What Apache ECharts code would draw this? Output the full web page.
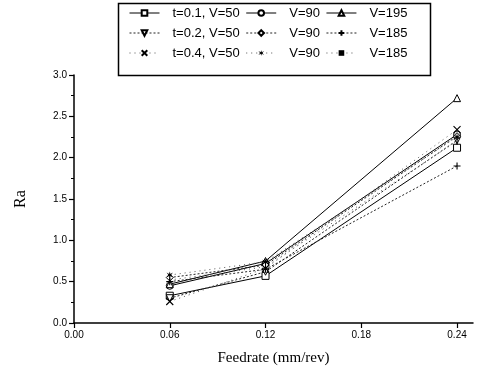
<!DOCTYPE html>
<html>
<head>
<meta charset="utf-8">
<script src="https://cdn.jsdelivr.net/npm/echarts@6/dist/echarts.min.js"></script>
<style>
  html, body { margin: 0; padding: 0; background: #fff; }
  #main { width: 488px; height: 374px; }
</style>
</head>
<body>
<div id="main"></div>
<script>
// feed rates on x axis
var feedrate = [0.06, 0.12, 0.24];
var xTicks = [0, 0.06, 0.12, 0.18, 0.24];

// Ra values, one array per (t, V)
var t01V50  = [0.33, 0.57, 2.12];
var t01V90  = [0.45, 0.72, 2.28];
var t01V195 = [0.47, 0.75, 2.72];
var t02V50  = [0.30, 0.62, 2.21];
var t02V90  = [0.55, 0.70, 2.26];
var t02V185 = [0.50, 0.65, 1.90];
var t04V50  = [0.26, 0.66, 2.34];
var t04V90  = [0.58, 0.74, 2.25];
var t04V185 = [0.52, 0.68, 2.20];

var seriesNames = ['t=0.1, V=50', 't=0.1, V=90', 't=0.1, V=195',
                   't=0.2, V=50', 't=0.2, V=90', 't=0.2, V=185',
                   't=0.4, V=50', 't=0.4, V=90', 't=0.4, V=185'];
var legendLabels = ['t=0.1, V=50', 'V=90', 'V=195',
                    't=0.2, V=50', 'V=90', 'V=185',
                    't=0.4, V=50', 'V=90', 'V=185'];

var myChart = echarts.init(document.getElementById('main'));

function pts(arr) {
    return arr.map(function (v, i) { return [feedrate[i], v]; });
}

var open = {color: '#fff', borderColor: '#000', borderWidth: 1};
var stroke = {color: '#000', borderColor: '#000', borderWidth: 1.1};
var solid = {color: '#000', width: 1, type: 'solid'};
var dotted = {color: '#222', width: 1, type: [2, 2]};
var sparse = {color: '#555', width: 1, type: [1, 4]};

function mk(name, data, symbol, itemStyle, lineStyle, rot) {
    return {
        name: name,
        type: 'line',
        data: pts(data),
        symbol: symbol,
        symbolSize: 7,
        symbolKeepAspect: true,
        symbolRotate: rot || 0,
        itemStyle: itemStyle,
        lineStyle: lineStyle,
        emphasis: {disabled: true}
    };
}

var star = 'path://M5,0L6,3.5L9.5,1.5L7,5L9.5,8.5L6,6.5L5,10L4,6.5L0.5,8.5L3,5L0.5,1.5L4,3.5Z';
var plus = 'path://M0,5L10,5M5,0L5,10';
var cross = 'path://M0,0L10,10M10,0L0,10';
var bar = 'path://M4.4,1L5.6,1L5.6,9L4.4,9Z';

var option = {
    animation: false,
    legend: {
        data: seriesNames,
        left: 129,
        right: 50,
        top: 6,
        itemGap: 6,
        itemWidth: 30,
        itemHeight: 7,
        padding: 0,
        lineStyle: {width: 1},
        formatter: function (name) {
            return legendLabels[seriesNames.indexOf(name)];
        },
        textStyle: {
            fontFamily: 'Liberation Sans',
            fontSize: 13,
            lineHeight: 14,
            color: '#000',
            padding: [0, 0, 0, 8]
        }
    },
    graphic: [{
        type: 'rect',
        left: 116,
        top: 1,
        shape: {width: 312, height: 72},
        style: {fill: 'none', stroke: '#000', lineWidth: 1.5}
    }],
    grid: {
        left: 74,
        top: 75,
        width: 399,
        bottom: 51
    },
    xAxis: {
        type: 'value',
        min: 0,
        max: 0.25,
        name: 'Feedrate (mm/rev)',
        nameLocation: 'middle',
        nameGap: 28,
        nameTextStyle: {fontFamily: 'Liberation Serif', fontSize: 15, color: '#000'},
        splitLine: {show: false},
        axisLine: {lineStyle: {color: '#000', width: 1.5}},
        axisTick: {customValues: xTicks, length: 5, lineStyle: {color: '#000', width: 1.2}},
        axisLabel: {
            customValues: xTicks,
            color: '#000',
            fontFamily: 'Liberation Sans',
            fontSize: 10,
            margin: 7,
            formatter: function (v) { return v.toFixed(2); }
        }
    },
    yAxis: {
        type: 'value',
        min: 0,
        max: 3,
        interval: 0.5,
        name: 'Ra',
        nameLocation: 'middle',
        nameGap: 45,
        nameTextStyle: {fontFamily: 'Liberation Serif', fontSize: 16, color: '#000'},
        splitLine: {show: false},
        axisLine: {show: true, lineStyle: {color: '#000', width: 1.5}},
        axisTick: {show: true, length: 5, lineStyle: {color: '#000', width: 1.2}},
        minorTick: {show: true, splitNumber: 2, length: 3, lineStyle: {color: '#000', width: 1}},
        axisLabel: {
            color: '#000',
            fontFamily: 'Liberation Sans',
            fontSize: 10,
            margin: 7,
            formatter: function (v) { return v.toFixed(1); }
        }
    },
    series: [
        mk(seriesNames[0], t01V50, 'rect', open, solid),
        mk(seriesNames[1], t01V90, 'circle', open, solid),
        mk(seriesNames[2], t01V195, 'triangle', open, solid),
        mk(seriesNames[3], t02V50, 'triangle', open, dotted, 180),
        mk(seriesNames[4], t02V90, 'diamond', open, dotted),
        mk(seriesNames[5], t02V185, plus, stroke, dotted),
        mk(seriesNames[6], t04V50, cross, stroke, sparse),
        mk(seriesNames[7], t04V90, star, {color: '#000'}, sparse),
        mk(seriesNames[8], t04V185, bar, {color: '#000'}, sparse)
    ]
};

myChart.setOption(option);
</script>
</body>
</html>
